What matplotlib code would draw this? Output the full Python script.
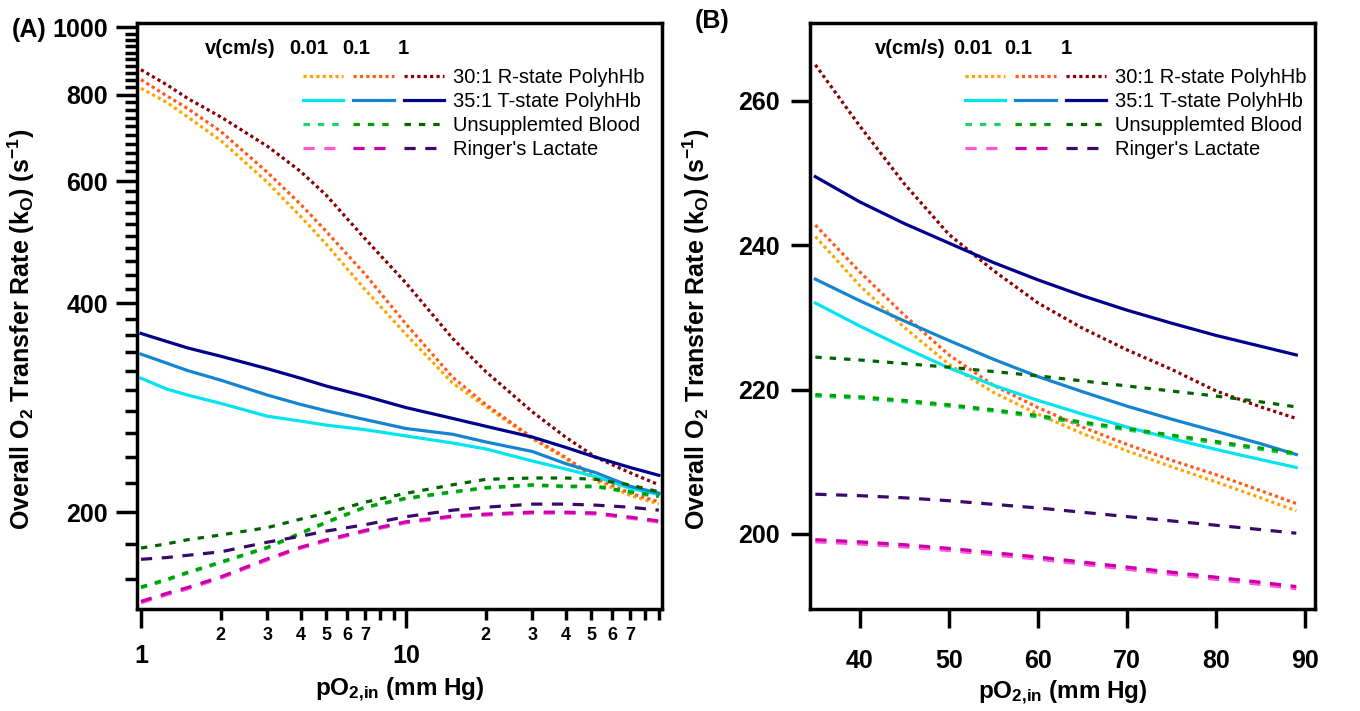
import numpy as np
import matplotlib
matplotlib.use('Agg')
import matplotlib.pyplot as plt
from matplotlib.ticker import FixedLocator, FuncFormatter, NullFormatter
from matplotlib.legend_handler import HandlerTuple

plt.rcParams['font.family'] = ['Liberation Sans', 'DejaVu Sans']
plt.rcParams['font.weight'] = 'bold'
plt.rcParams['axes.labelweight'] = 'bold'
plt.rcParams['mathtext.fontset'] = 'custom'
plt.rcParams['mathtext.rm'] = 'Liberation Sans:weight=bold'
plt.rcParams['mathtext.it'] = 'Liberation Sans:weight=bold'
plt.rcParams['mathtext.bf'] = 'Liberation Sans:weight=bold'

# ---- panel A (log-log) ----
x_a = [1, 1.25, 1.5, 2, 3, 4, 5, 7, 10, 15, 20, 30, 40, 52, 70, 90]
r001_a = [817, 780, 743, 687, 598, 534, 487, 419, 361, 307, 284, 255, 239, 222, 211.5, 205.5]
r01_a = [841, 797, 764, 708, 618, 556, 508, 441, 373.5, 313, 286, 256, 240, 224, 213, 207]
r1_a = [869, 827, 790, 743, 674, 620, 573, 496, 428, 356, 319, 279, 256.6, 240, 228, 219]
t001_a = [312, 301, 295, 287, 275, 270.6, 267, 263, 257.6, 251.6, 246.7, 237, 230.8, 225, 216.5, 212]
t01_a = [338, 328, 320, 310, 295, 286, 280, 272, 264, 259, 252.5, 244.6, 235, 228, 218, 213]
t1_a = [362, 352.5, 345, 335.6, 322, 312, 304, 294, 283, 273, 266, 256.6, 248, 240, 232, 226]
b001_a = [155.5, 159.5, 163.3, 169, 177.5, 186, 193, 203, 209, 213.5, 216.5, 218.5, 217.5, 217.5, 213.5, 210.5]
b01_a = [156, 160, 163.8, 169.5, 178, 186.6, 193.5, 203.4, 209.5, 214, 217, 219, 218, 218, 214, 211]
b1_a = [177.5, 180, 182.5, 185.4, 190, 195.4, 199.3, 206.7, 212.9, 219, 223, 224, 224, 223, 218.9, 214]
l001_a = [148, 152, 155, 160.6, 170.6, 177.4, 181.7, 187.5, 193, 196.7, 198, 199.3, 199.3, 198.7, 196, 193.5]
l01_a = [148.7, 152.7, 155.7, 161.3, 171.3, 178, 182.4, 188.2, 193.7, 197.4, 198.7, 200, 200, 199.4, 196.7, 194.2]
l1_a = [171, 172, 173.3, 175.3, 181, 184.6, 187.8, 191.8, 197, 201.3, 203.3, 205.4, 205.4, 204.7, 203.3, 201.3]

# ---- panel B (linear) ----
x_b = [35, 40, 45, 50, 55, 60, 65, 70, 75, 80, 85, 89]
r001_b = [241.2, 234.4, 228.6, 223.5, 219.6, 216.6, 213.9, 211.5, 209.3, 207.2, 205, 203.2]
r01_b = [242.8, 236.3, 230.3, 224.8, 220.6, 217.5, 214.8, 212.4, 210.2, 208.2, 206, 204.2]
r1_b = [265, 256.5, 248.5, 241.5, 236.5, 232, 228.5, 225.5, 222.8, 219.8, 217.6, 216]
t001_b = [232, 228.8, 225.8, 223, 220.6, 218.5, 216.6, 214.8, 213.2, 211.7, 210.3, 209.2]
t01_b = [235.3, 232.3, 229.5, 226.8, 224.2, 221.8, 219.7, 217.7, 215.9, 214.2, 212.5, 211]
t1_b = [249.5, 246, 243, 240.3, 237.6, 235.2, 233, 231, 229.2, 227.5, 226, 224.8]
b001_b = [219.1, 218.8, 218.3, 217.7, 217.0, 216.2, 215.3, 214.4, 213.5, 212.6, 211.7, 211.0]
b01_b = [219.3, 219, 218.5, 217.9, 217.2, 216.4, 215.5, 214.6, 213.7, 212.8, 211.9, 211.2]
b1_b = [224.5, 224.1, 223.6, 223.1, 222.5, 221.9, 221.2, 220.5, 219.8, 219.1, 218.3, 217.6]
l001_b = [198.9, 198.6, 198.2, 197.7, 197.1, 196.5, 195.8, 195.1, 194.4, 193.7, 193.0, 192.4]
l01_b = [199.2, 198.9, 198.5, 198, 197.4, 196.8, 196.1, 195.4, 194.7, 194, 193.3, 192.7]
l1_b = [205.5, 205.3, 205, 204.6, 204.1, 203.6, 203, 202.4, 201.8, 201.2, 200.6, 200.1]

labels = ['30:1 R-state PolyhHb', '35:1 T-state PolyhHb', 'Unsupplemted Blood', "Ringer's Lactate"]
speeds = ['0.01', '0.1', '1']

colors = {
    'r': ['#FFA500', '#FF5A1A', '#8B0000'],
    't': ['#00E5EE', '#1685CF', '#00008B'],
    'b': ['#1ED26E', '#00A000', '#006400'],
    'l': ['#FF55DD', '#CC00AA', '#3A0A6A'],
}
styles = {
    'r': (0, (1, 1)),
    't': '-',
    'b': (0, (2, 2.5)),
    'l': (0, (3.5, 3)),
}


def draw(ax, x, data):
    handles = []
    for key in ['r', 't', 'b', 'l']:
        row = []
        for i, y in enumerate(data[key]):
            ln, = ax.plot(x, y, color=colors[key][i], linestyle=styles[key], lw=2.3)
            row.append(ln)
        handles.append(tuple(row))
    return handles


def add_legend(ax, hx, sx, lx):
    ax.text(hx, 0.957, 'v(cm/s)', transform=ax.transAxes, fontsize=14.5,
            ha='left', va='center')
    for s, xp in zip(speeds, sx):
        ax.text(xp, 0.957, s, transform=ax.transAxes, fontsize=14.5, ha='center', va='center')
    ax.legend(handles, labels, loc='upper left', bbox_to_anchor=(lx, 0.923),
              handler_map={tuple: HandlerTuple(ndivide=None, pad=0.5)},
              frameon=False, prop={'weight': 'normal', 'size': 14.5},
              handlelength=7.0, handletextpad=0.45, labelspacing=0.25,
              borderpad=0, borderaxespad=0)


fig = plt.figure(figsize=(13.6, 7.11), dpi=100)
ax1 = fig.add_axes([137 / 1360, 0.1435, 525 / 1360, 0.8242])
ax2 = fig.add_axes([810 / 1360, 0.1435, 505 / 1360, 0.8242])

handles = draw(ax1, x_a, {'r': [r001_a, r01_a, r1_a], 't': [t001_a, t01_a, t1_a],
                          'b': [b001_a, b01_a, b1_a], 'l': [l001_a, l01_a, l1_a]})
draw(ax2, x_b, {'r': [r001_b, r01_b, r1_b], 't': [t001_b, t01_b, t1_b],
                'b': [b001_b, b01_b, b1_b], 'l': [l001_b, l01_b, l1_b]})

for ax in (ax1, ax2):
    for sp in ax.spines.values():
        sp.set_linewidth(2.5)
add_legend(ax1, 0.13, [0.328, 0.417, 0.508], 0.316)
add_legend(ax2, 0.129, [0.323, 0.412, 0.507], 0.307)

ylab = 'Overall O$_2$ Transfer Rate (k$_O$) (s$^{-1}$)'
xlab = 'pO$_{2{,}in}$ (mm Hg)'

# panel A axes
ax1.set_xscale('log')
ax1.set_yscale('log')
ax1.set_xlim(0.966, 92.5)
ax1.set_ylim(145, 1015)
ax1.yaxis.set_major_locator(FixedLocator([200, 400, 600, 800, 1000]))
ax1.yaxis.set_major_formatter(FuncFormatter(lambda v, p: '%d' % v))
ax1.yaxis.set_minor_locator(FixedLocator([v for v in range(160, 1000, 20) if v % 200]))
ax1.yaxis.set_minor_formatter(NullFormatter())
ax1.xaxis.set_major_locator(FixedLocator([1, 10]))
ax1.xaxis.set_major_formatter(FuncFormatter(lambda v, p: '%d' % v))
minor_x = [m * d for d in (1, 10) for m in range(2, 10)]
ax1.xaxis.set_minor_locator(FixedLocator(minor_x))


def minor_fmt(v, p):
    d = int(round(v / 10 ** np.floor(np.log10(v))))
    return str(d) if d <= 7 else ''


ax1.xaxis.set_minor_formatter(FuncFormatter(minor_fmt))
ax1.tick_params(axis='y', which='major', length=15, width=2.5, labelsize=18, pad=6)
ax1.tick_params(axis='y', which='minor', length=8.5, width=2.5)
ax1.tick_params(axis='x', which='major', length=14, width=2.5, labelsize=18, pad=11)
ax1.tick_params(axis='x', which='minor', length=8, width=2.5, labelsize=13, pad=5)
ax1.set_ylabel(ylab, fontsize=18)
ax1.set_xlabel(xlab, fontsize=17.5, labelpad=6)
ax1.yaxis.set_label_coords(-0.19, 0.477)

# panel B axes
ax2.set_xlim(34.4, 91.1)
ax2.set_ylim(189.6, 270.8)
ax2.set_xticks([40, 50, 60, 70, 80, 90])
ax2.set_yticks([200, 220, 240, 260])
ax2.tick_params(axis='both', length=14, width=2.5, labelsize=18)
ax2.tick_params(axis='x', pad=15)
ax2.tick_params(axis='y', pad=8)
ax2.set_ylabel(ylab, fontsize=18)
ax2.set_xlabel(xlab, fontsize=17.5, labelpad=4)
ax2.yaxis.set_label_coords(-0.194, 0.477)

fig.text(0.009, 0.958, '(A)', fontsize=18, ha='left', va='center')
fig.text(0.511, 0.97, '(B)', fontsize=18, ha='left', va='center')

fig.savefig('out.png', dpi=100)
